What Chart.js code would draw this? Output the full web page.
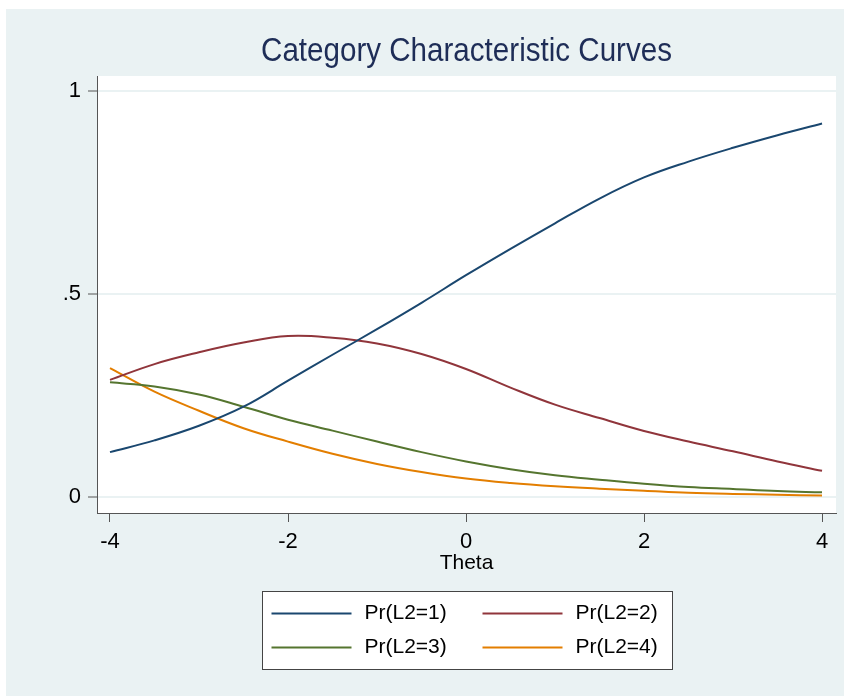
<!DOCTYPE html>
<html>
<head>
<meta charset="utf-8">
<script src="https://cdn.jsdelivr.net/npm/chart.js@4.4.0/dist/chart.umd.min.js"></script>
<style>
  html, body { margin: 0; padding: 0; background: #ffffff; }
  #panel { position: absolute; left: 6px; top: 9px; width: 838px; height: 687px; background: #eaf2f3; }
  #chart { display: block; }
</style>
</head>
<body>
<div id="panel"><canvas id="chart" width="838" height="687"></canvas></div>
<script>
// theta grid and curve values
const theta = [-4, -3.5, -3, -2.5, -2, -1.5, -1, -0.5, 0, 0.5, 1, 1.5, 2, 2.5, 3, 3.5, 4];
const prL2_1 = [0.110, 0.139, 0.175, 0.222, 0.286, 0.350, 0.413, 0.478, 0.546, 0.611, 0.674, 0.735, 0.787, 0.826, 0.860, 0.891, 0.920];
const prL2_2 = [0.288, 0.327, 0.356, 0.380, 0.396, 0.392, 0.378, 0.352, 0.315, 0.269, 0.227, 0.194, 0.162, 0.136, 0.112, 0.087, 0.064];
const prL2_3 = [0.282, 0.272, 0.252, 0.222, 0.190, 0.163, 0.136, 0.110, 0.087, 0.068, 0.053, 0.042, 0.032, 0.024, 0.019, 0.014, 0.011];
const prL2_4 = [0.317, 0.259, 0.212, 0.169, 0.136, 0.106, 0.081, 0.061, 0.045, 0.034, 0.026, 0.020, 0.015, 0.010, 0.007, 0.005, 0.003];
const seriesLabels = ["Pr(L2=1)", "Pr(L2=2)", "Pr(L2=3)", "Pr(L2=4)"];
const seriesColors = ["#1a476f", "#90353b", "#55752f", "#e37e00"];
const xTicks = [-4, -2, 0, 2, 4];
const yTicks = [0, 0.5, 1];
const chartTitle = "Category Characteristic Curves";

const FONT = "'Liberation Sans', Arial, sans-serif";
const toPoints = vals => vals.map((v, i) => ({ x: theta[i], y: v }));

// white plot region + title centred over the plot (stata puts it there)
const plotBg = {
    id: "plotBg",
    beforeDraw(chart) {
        const a = chart.chartArea;
        const ctx = chart.ctx;
        ctx.save();
        ctx.fillStyle = "#ffffff";
        ctx.fillRect(a.left, a.top, a.right - a.left, a.bottom - a.top);
        // slightly condensed like the original
        const cx = (a.left + a.right) / 2;
        ctx.translate(cx, 43);
        ctx.scale(0.87, 1);
        ctx.font = "34px " + FONT;
        ctx.fillStyle = "#1e2d57";
        ctx.textAlign = "center";
        ctx.textBaseline = "middle";
        ctx.fillText(chartTitle, 0, 0);
        ctx.restore();
    }
};

// stata style legend box, two columns
const boxLegend = {
    id: "boxLegend",
    afterDraw(chart) {
        const a = chart.chartArea;
        const ctx = chart.ctx;
        const w = 410, h = 78;
        const left = Math.round((a.left + a.right) / 2 - w / 2) + 0.5;
        const top = Math.round(a.bottom + 78) + 0.5;
        ctx.save();
        ctx.fillStyle = "#ffffff";
        ctx.fillRect(left, top, w, h);
        ctx.strokeStyle = "#444444";
        ctx.lineWidth = 1;
        ctx.strokeRect(left, top, w, h);
        ctx.font = "21px " + FONT;
        ctx.textBaseline = "middle";
        ctx.textAlign = "left";
        chart.data.datasets.forEach((ds, i) => {
            const col = i % 2, row = Math.floor(i / 2);
            const lx = left + (col === 0 ? 9 : 220);
            const ly = top + (row === 0 ? 22 : 56);
            ctx.strokeStyle = ds.borderColor;
            ctx.lineWidth = 2;
            ctx.beginPath();
            ctx.moveTo(lx, ly);
            ctx.lineTo(lx + 80, ly);
            ctx.stroke();
            ctx.fillStyle = "#000000";
            ctx.fillText(ds.label, lx + 93, ly);
        });
        ctx.restore();
    }
};

new Chart(document.getElementById("chart"), {
    type: "line",
    data: {
        datasets: [prL2_1, prL2_2, prL2_3, prL2_4].map((vals, i) => ({
            label: seriesLabels[i],
            data: toPoints(vals),
            borderColor: seriesColors[i],
            backgroundColor: seriesColors[i],
            borderWidth: 2,
            pointRadius: 0,
            fill: false,
            tension: 0.4
        }))
    },
    options: {
        responsive: false,
        animation: false,
        layout: { padding: { left: 0, right: 8, top: 67, bottom: 108 } },
        plugins: {
            legend: { display: false },
            tooltip: { enabled: false },
            title: { display: false }
        },
        scales: {
            x: {
                type: "linear",
                min: -4.146,
                max: 4.157,
                afterBuildTicks: s => { s.ticks = xTicks.map(v => ({ value: v })); },
                afterFit: s => { s.height = 75; },
                grid: { drawOnChartArea: false, drawTicks: true, tickLength: 9, tickColor: "#555555" },
                border: { display: true, color: "#555555", width: 1 },
                ticks: {
                    color: "#000000",
                    padding: 7,
                    maxRotation: 0,
                    font: { family: FONT, size: 22 },
                    callback: v => String(v)
                },
                title: {
                    display: true,
                    text: "Theta",
                    color: "#000000",
                    font: { family: FONT, size: 21 },
                    padding: { top: 0, bottom: 12 }
                }
            },
            y: {
                min: -0.04,
                max: 1.037,
                afterBuildTicks: s => { s.ticks = yTicks.map(v => ({ value: v })); },
                afterFit: s => { s.width = 91; },
                grid: { color: "#eaf2f3", lineWidth: 2, drawTicks: true, tickLength: 9, tickColor: "#555555", tickWidth: 1 },
                border: { display: true, color: "#555555", width: 1 },
                ticks: {
                    color: "#000000",
                    padding: 7,
                    font: { family: FONT, size: 22 },
                    callback: v => (v === 0.5 ? ".5" : String(v))
                }
            }
        }
    },
    plugins: [plotBg, boxLegend]
});
</script>
</body>
</html>
